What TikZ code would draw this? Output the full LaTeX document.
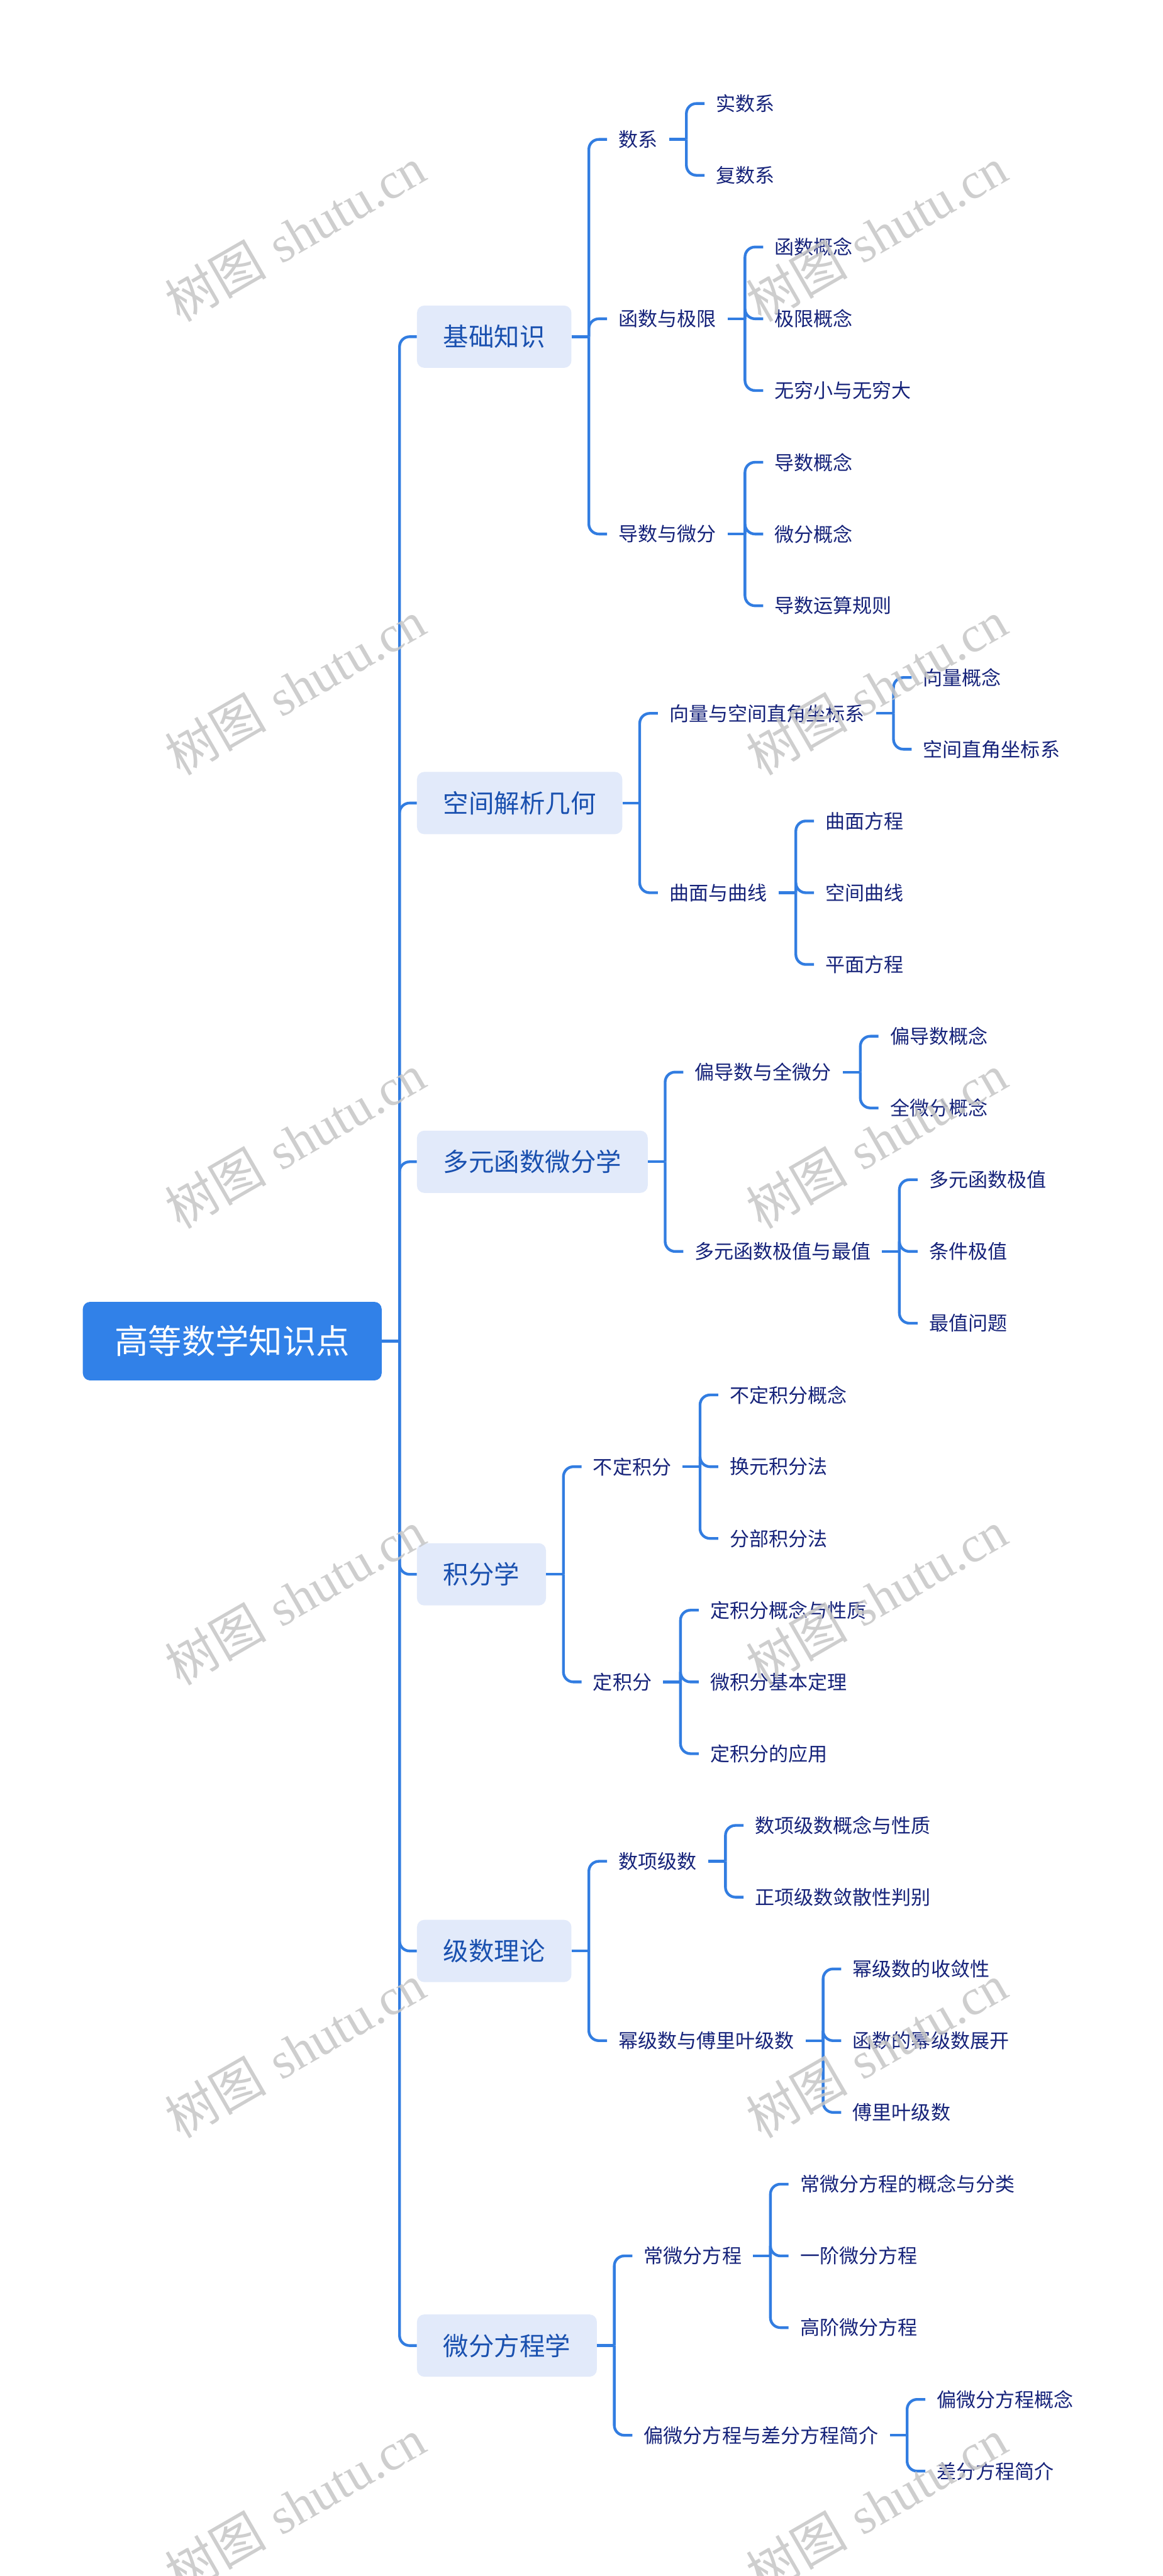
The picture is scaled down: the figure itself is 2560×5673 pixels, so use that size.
\documentclass[tikz,border=0pt]{standalone}
\usepackage{fontspec}
\newfontfamily\cjk{Noto Sans CJK SC}
\newfontfamily\wmlatin{Liberation Serif}
\usetikzlibrary{calc}
\definecolor{lineblue}{HTML}{327DE1}
\definecolor{rootblue}{HTML}{3181E8}
\definecolor{topicfill}{HTML}{E2EAFA}
\definecolor{topictext}{HTML}{1950AF}
\definecolor{subtext}{HTML}{16237A}
\definecolor{wmgray}{HTML}{C6C6C6}
\tikzset{
  conn/.style={line width=3pt, draw=lineblue, rounded corners=11pt},
  rootnode/.style={fill=rootblue, rounded corners=8pt, text=white,
    font=\cjk\fontsize{37}{40}\selectfont, minimum height=86.5pt,
    inner xsep=35pt, anchor=west},
  topic/.style={fill=topicfill, rounded corners=8pt, text=topictext,
    font=\cjk\fontsize{28}{32}\selectfont, minimum height=68.5pt,
    inner xsep=29pt, anchor=west},
  sub/.style={text=subtext, font=\cjk\fontsize{21.5}{24}\selectfont,
    inner xsep=12.5pt, inner ysep=3pt, anchor=west},
  wm/.style={text=wmgray, text opacity=0.85, rotate=30,
    font=\fontsize{56}{60}\selectfont, inner sep=0pt}
}
\newcommand\mmbrk[2]{\coordinate (#2) at ($(#1.east)+(38,0)$);\draw[conn] (#1.east) -- (#2);}
\newcommand\mmkid[4]{\node[sub] (#1) at ($(#2 |- 0,#3)+(40,0)$) {#4};\draw[conn] (#2) |- (#1.west);}
\newcommand\mmtopic[4]{\node[topic] (#1) at ($(#2 |- 0,#3)+(38,0)$) {#4};\draw[conn] (#2) |- (#1.west);}
\begin{document}
\begin{tikzpicture}[x=0.5pt, y=-0.5pt]
\fill[white] (0,0) rectangle (2560,5673);
\useasboundingbox (0,0) rectangle (2560,5673);

% root
\node[rootnode] (root) at (182,2953.5) {高等数学知识点};
\coordinate (t0) at ($(root.east)+(39,0)$);
\draw[conn] (root.east) -- (t0);

% level 1
\mmtopic{A}{t0}{741.5}{基础知识}
\mmtopic{B}{t0}{1768.5}{空间解析几何}
\mmtopic{C}{t0}{2558.5}{多元函数微分学}
\mmtopic{D}{t0}{3467}{积分学}
\mmtopic{E}{t0}{4296.5}{级数理论}
\mmtopic{F}{t0}{5165.5}{微分方程学}

% A
\mmbrk{A}{bA}
\mmkid{Aa}{bA}{307}{数系}
\mmkid{Ab}{bA}{702}{函数与极限}
\mmkid{Ac}{bA}{1176}{导数与微分}
\mmbrk{Aa}{bAa}
\mmkid{Aa1}{bAa}{228}{实数系}
\mmkid{Aa2}{bAa}{386}{复数系}
\mmbrk{Ab}{bAb}
\mmkid{Ab1}{bAb}{544}{函数概念}
\mmkid{Ab2}{bAb}{702}{极限概念}
\mmkid{Ab3}{bAb}{860}{无穷小与无穷大}
\mmbrk{Ac}{bAc}
\mmkid{Ac1}{bAc}{1018}{导数概念}
\mmkid{Ac2}{bAc}{1176}{微分概念}
\mmkid{Ac3}{bAc}{1334}{导数运算规则}

% B
\mmbrk{B}{bB}
\mmkid{Ba}{bB}{1571}{向量与空间直角坐标系}
\mmkid{Bb}{bB}{1966}{曲面与曲线}
\mmbrk{Ba}{bBa}
\mmkid{Ba1}{bBa}{1492}{向量概念}
\mmkid{Ba2}{bBa}{1650}{空间直角坐标系}
\mmbrk{Bb}{bBb}
\mmkid{Bb1}{bBb}{1808}{曲面方程}
\mmkid{Bb2}{bBb}{1966}{空间曲线}
\mmkid{Bb3}{bBb}{2124}{平面方程}

% C
\mmbrk{C}{bC}
\mmkid{Ca}{bC}{2361}{偏导数与全微分}
\mmkid{Cb}{bC}{2756}{多元函数极值与最值}
\mmbrk{Ca}{bCa}
\mmkid{Ca1}{bCa}{2282}{偏导数概念}
\mmkid{Ca2}{bCa}{2440}{全微分概念}
\mmbrk{Cb}{bCb}
\mmkid{Cb1}{bCb}{2598}{多元函数极值}
\mmkid{Cb2}{bCb}{2756}{条件极值}
\mmkid{Cb3}{bCb}{2914}{最值问题}

% D
\mmbrk{D}{bD}
\mmkid{Da}{bD}{3230}{不定积分}
\mmkid{Db}{bD}{3704}{定积分}
\mmbrk{Da}{bDa}
\mmkid{Da1}{bDa}{3072}{不定积分概念}
\mmkid{Da2}{bDa}{3230}{换元积分法}
\mmkid{Da3}{bDa}{3388}{分部积分法}
\mmbrk{Db}{bDb}
\mmkid{Db1}{bDb}{3546}{定积分概念与性质}
\mmkid{Db2}{bDb}{3704}{微积分基本定理}
\mmkid{Db3}{bDb}{3862}{定积分的应用}

% E
\mmbrk{E}{bE}
\mmkid{Ea}{bE}{4099}{数项级数}
\mmkid{Eb}{bE}{4494}{幂级数与傅里叶级数}
\mmbrk{Ea}{bEa}
\mmkid{Ea1}{bEa}{4020}{数项级数概念与性质}
\mmkid{Ea2}{bEa}{4178}{正项级数敛散性判别}
\mmbrk{Eb}{bEb}
\mmkid{Eb1}{bEb}{4336}{幂级数的收敛性}
\mmkid{Eb2}{bEb}{4494}{函数的幂级数展开}
\mmkid{Eb3}{bEb}{4652}{傅里叶级数}

% F
\mmbrk{F}{bF}
\mmkid{Fa}{bF}{4968}{常微分方程}
\mmkid{Fb}{bF}{5363}{偏微分方程与差分方程简介}
\mmbrk{Fa}{bFa}
\mmkid{Fa1}{bFa}{4810}{常微分方程的概念与分类}
\mmkid{Fa2}{bFa}{4968}{一阶微分方程}
\mmkid{Fa3}{bFa}{5126}{高阶微分方程}
\mmbrk{Fb}{bFb}
\mmkid{Fb1}{bFb}{5284}{偏微分方程概念}
\mmkid{Fb2}{bFb}{5442}{差分方程简介}

% watermarks
\foreach \wy [count=\k] in {516,1514,2513,3518,4516,5518}{
  \node[wm] (wl\k) at (650,\wy) {{\cjk 树图} {\wmlatin shutu.cn}};
  \node[wm] (wr\k) at (1930,\wy) {{\cjk 树图} {\wmlatin shutu.cn}};
}
\end{tikzpicture}
\end{document}
